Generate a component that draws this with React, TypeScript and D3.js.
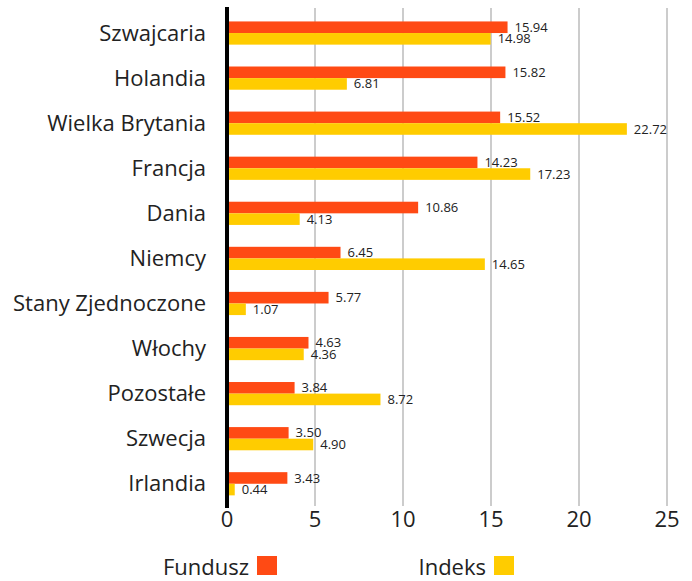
import React from "react";
import * as d3 from "d3";

const categories = ["Szwajcaria", "Holandia", "Wielka Brytania", "Francja", "Dania", "Niemcy", "Stany Zjednoczone", "Włochy", "Pozostałe", "Szwecja", "Irlandia"];
const fundValues = [15.94, 15.82, 15.52, 14.23, 10.86, 6.45, 5.77, 4.63, 3.84, 3.50, 3.43];
const indexValues = [14.98, 6.81, 22.72, 17.23, 4.13, 14.65, 1.07, 4.36, 8.72, 4.90, 0.44];
const xTicks = [0, 5, 10, 15, 20, 25];
const seriesNames = ["Fundusz", "Indeks"];

const ORANGE = "#FF4A14";
const YELLOW = "#FFCC00";
const FONT = "'Open Sans', sans-serif";

export default function App() {
  const W = 692, H = 581;
  const x = d3.scaleLinear().domain([0, 25]).range([227, 667]);
  const y = d3.scaleBand<string>().domain(categories).range([10.5, 506.3]).paddingInner(0.49).paddingOuter(0.245);
  const barH = 11.6;

  return (
    <svg width={W} height={H} style={{ position: "absolute", left: 0, top: 0, fontFamily: FONT }}>
      {xTicks.filter(t => t > 0).map(t => (
        <line key={t} x1={x(t)} x2={x(t)} y1={8} y2={506} stroke="#cccccc" strokeWidth={2} />
      ))}
      {categories.map((c, i) => {
        const yc = (y(c) as number) + y.bandwidth() / 2;
        return (
          <g key={c}>
            <rect x={x(0)} y={yc - barH} width={x(fundValues[i]) - x(0)} height={barH} fill={ORANGE} />
            <rect x={x(0)} y={yc} width={x(indexValues[i]) - x(0)} height={barH} fill={YELLOW} />
            <text x={x(fundValues[i]) + 7} y={yc - barH / 2} dy="0.35em" fontSize={13} fill="#222">{fundValues[i].toFixed(2)}</text>
            <text x={x(indexValues[i]) + 7} y={yc + barH / 2} dy="0.35em" fontSize={13} fill="#222">{indexValues[i].toFixed(2)}</text>
            <text x={206} y={yc} dy="0.35em" textAnchor="end" fontSize={22} fill="#222">{c}</text>
          </g>
        );
      })}
      <line x1={227} x2={227} y1={7} y2={508} stroke="#000" strokeWidth={4} />
      {xTicks.map(t => (
        <text key={t} x={x(t)} y={527} textAnchor="middle" fontSize={22} fill="#222">{t}</text>
      ))}
      <text x={249} y={575} textAnchor="end" fontSize={22} fill="#222">{seriesNames[0]}</text>
      <rect x={257} y={556} width={20} height={19} fill={ORANGE} />
      <text x={486} y={575} textAnchor="end" fontSize={22} fill="#222">{seriesNames[1]}</text>
      <rect x={494} y={556} width={20} height={19} fill={YELLOW} />
    </svg>
  );
}
